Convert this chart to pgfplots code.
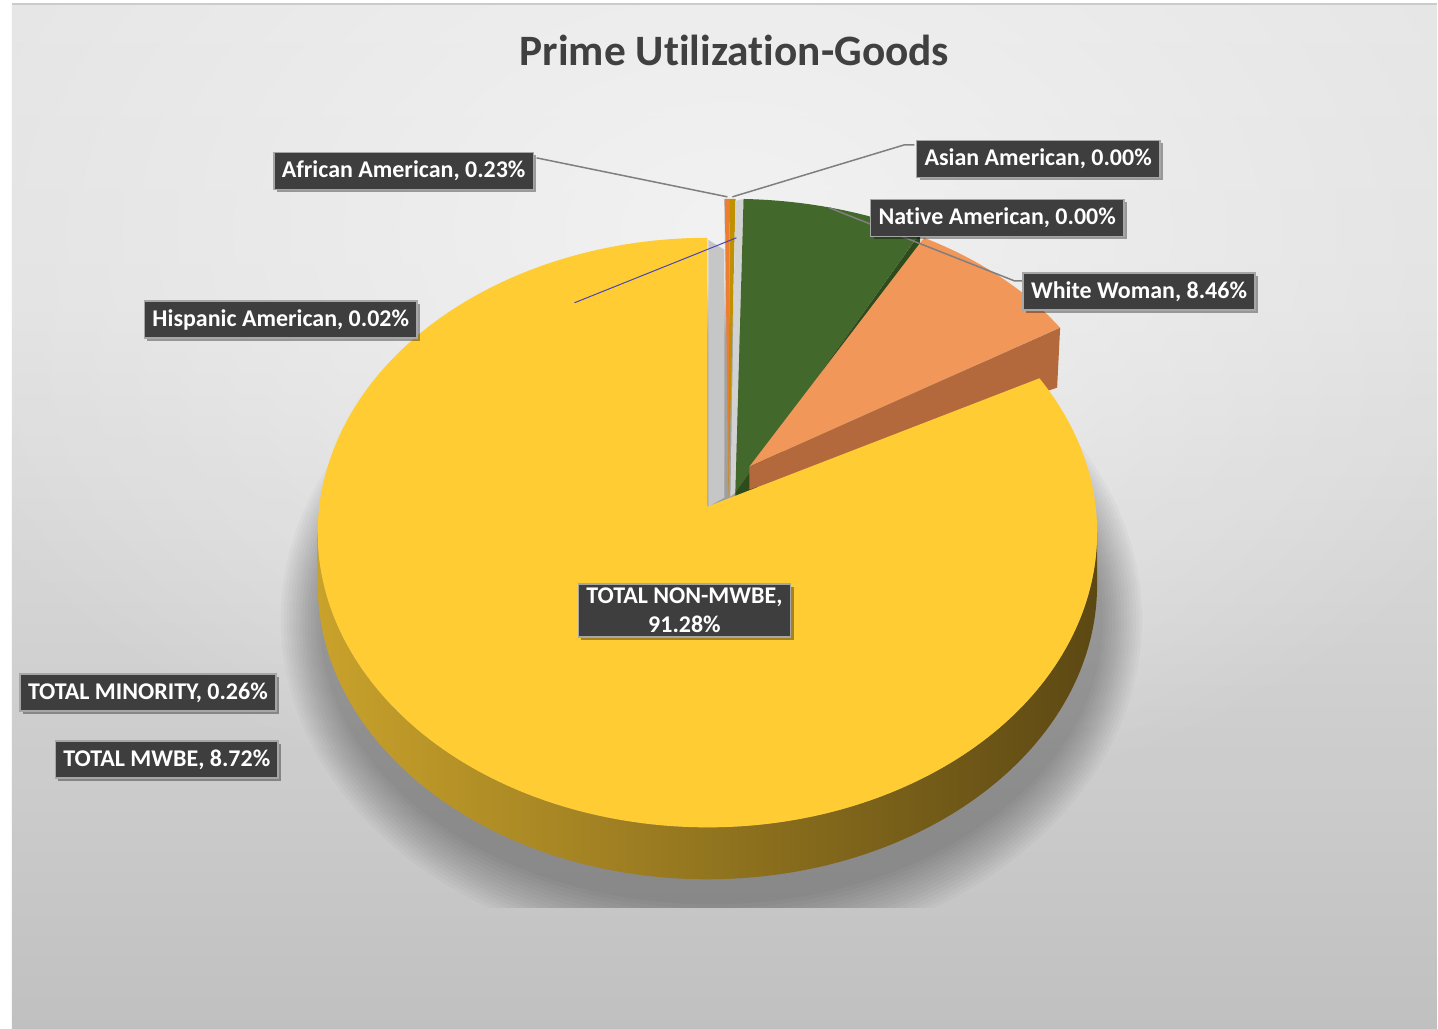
\documentclass[border=0pt]{standalone}
\usepackage{fontspec}
\setmainfont{Carlito}[Ligatures=NoCommon]
\usepackage{pgfplots}
\usepackage{pgfplotstable}
\pgfplotsset{compat=1.18}
\usetikzlibrary{shadows,fadings}

% slice colours
\definecolor{cHisp}{HTML}{A5A5A5}
\definecolor{cAfr}{HTML}{ED7D31}
\definecolor{cMin}{HTML}{BF9000}
\definecolor{cWW}{HTML}{43682B}
\definecolor{cWWside}{HTML}{2E4B1C}
\definecolor{cMWBE}{HTML}{F2975A}
\definecolor{cMWBEside}{HTML}{B4693C}
\definecolor{cNon}{HTML}{FFCD33}
\definecolor{lblfill}{HTML}{3E3E3E}
\definecolor{lbldraw}{HTML}{A6A6A6}
\definecolor{leader}{HTML}{7F7F7F}
\definecolor{titlec}{HTML}{404040}
\definecolor{bgA}{HTML}{F2F2F2}
\definecolor{bgB}{HTML}{EEEEEE}
\definecolor{bgC}{HTML}{DCDCDC}
\definecolor{bgD}{HTML}{CBCBCB}
\definecolor{sideA}{HTML}{C9A22B}
\definecolor{sideC}{HTML}{6E5719}
\definecolor{sideD}{HTML}{5C4813}

\tikzfading[name=glow, inner color=transparent!0, outer color=transparent!100]

\pgfplotstableread{
name value
Hispanic 0.02
African 0.23
Asian 0.00
Native 0.00
Minority 0.26
WhiteWoman 8.46
MWBE 8.72
NonMWBE 91.28
}\piedata

% cumulative angles, degrees clockwise from 12 o'clock
\pgfplotstablegetrowsof{\piedata}
\pgfmathtruncatemacro\lastrow{\pgfplotsretval-1}
\def\pietotal{0}
\pgfplotsforeachungrouped \i in {0,...,\lastrow}{%
  \pgfplotstablegetelem{\i}{value}\of\piedata
  \pgfmathsetmacro\pietotal{\pietotal+\pgfplotsretval}%
}
\def\piecum{0}
\pgfplotsforeachungrouped \i in {0,...,\lastrow}{%
  \pgfplotstablegetelem{\i}{value}\of\piedata
  \expandafter\let\csname pieA\i\endcsname\piecum
  \pgfmathsetmacro\piecum{\piecum+(\pgfplotsretval/\pietotal)*360}%
  \expandafter\let\csname pieB\i\endcsname\piecum
}
\newcommand\angA[1]{\csname pieA#1\endcsname}
\newcommand\angB[1]{\csname pieB#1\endcsname}

% top face of a slice: start, end, Ex, Ey, rx, ry, apex x, apex y, style
\newcommand\pietop[9]{\pgfplotsextra{%
  \pgfmathsetmacro\sx{#3+#5*sin(#1)}%
  \pgfmathsetmacro\sy{#4-#6*cos(#1)}%
  \fill[#9] (axis cs:#7,#8) -- (axis cs:\sx,\sy)
    arc[start angle={90-#1}, end angle={90-#2}, x radius={#5*0.5pt}, y radius={#6*0.5pt}] -- cycle;
}}

\tikzset{lbl/.style={fill=lblfill, draw=lbldraw, line width=0.8pt, text=white,
  font=\bfseries\fontsize{12}{14.5}\selectfont, inner xsep=4pt, inner ysep=0pt,
  minimum height=18.5pt,
  drop shadow={shadow xshift=1.5pt, shadow yshift=-1.5pt, opacity=0.35, fill=black}}}

\begin{document}
\begin{tikzpicture}
\begin{axis}[x=0.5pt, y=0.5pt, xmin=0, xmax=1438, ymin=0, ymax=1029,
  y dir=reverse, hide axis, clip=false, anchor=south west, at={(0,0)}]

% background
\pgfplotsextra{
  \fill[white] (axis cs:0,0) rectangle (axis cs:1438,1029);
  \shade[top color=bgA, bottom color=bgB] (axis cs:12,5) rectangle (axis cs:1438,301);
  \shade[top color=bgB, middle color=bgC, bottom color=bgD] (axis cs:12,300) rectangle (axis cs:1438,1029);
  \begin{scope}
    \clip (axis cs:12,5) rectangle (axis cs:1438,1029);
    \fill[white, path fading=glow] (axis cs:730,230) ellipse [x radius=440pt, y radius=300pt];
  \end{scope}
  \shade[left color=black, middle color=white, right color=black, opacity=0.05]
    (axis cs:12,5) rectangle (axis cs:1438,1029);
  \draw[line width=1.2pt, color=bgD] (axis cs:12,4) -- (axis cs:1438,4);
}

% soft shadow below the pie
\pgfplotsextra{
  \begin{scope}
    \clip (axis cs:12,5) rectangle (axis cs:1438,908);
    \foreach \k in {0,...,13}{
      \fill[black, opacity=0.024] (axis cs:712,620)
        ellipse [x radius={(392+3*\k)*0.5pt}, y radius={(285+4*\k)*0.5pt}];
    }
  \end{scope}
}

% side wall of the big slice
\pgfplotsextra{
  \shade[left color=sideA, middle color=sideC, right color=sideD] (axis cs:1098,533)
    arc[start angle=0, end angle=-180, x radius=195pt, y radius=147.5pt]
    -- (axis cs:318,585)
    arc[start angle=180, end angle=360, x radius=195pt, y radius=147.5pt] -- cycle;
}

% thin slices near 12 o'clock
\pietop{\angA{0}}{\angB{0}}{725}{459}{380}{260}{729}{497}{cHisp}
\pietop{\angA{1}}{\angB{1}}{725}{459}{380}{260}{729}{497}{cAfr}
\pietop{\angA{4}}{\angB{4}}{725}{459}{380}{260}{729}{497}{cMin}
\pgfplotsextra{
  \fill[gray!35] (axis cs:736,201) -- (axis cs:744,199) -- (axis cs:736,493) -- (axis cs:731,497) -- cycle;
}

% White Woman
\pietop{\angA{5}}{\angB{5}}{733}{459}{380}{260}{736}{493}{cWW}
\pgfplotsextra{
  \fill[cWWside] (axis cs:736,493) -- (axis cs:921,233) -- (axis cs:921,260) -- (axis cs:736,518) -- cycle;
}

% TOTAL MWBE
\pietop{\angA{6}}{\angB{6}}{737}{464}{380}{260}{750}{467}{cMWBE}
\pgfplotsextra{
  \fill[cMWBEside] (axis cs:750,467) -- (axis cs:1061,328) -- (axis cs:1058,388) -- (axis cs:750,490) -- cycle;
}

% TOTAL NON-MWBE
\pietop{\angA{7}}{\angB{7}}{708}{533}{390}{295}{708}{507}{cNon}
\pgfplotsextra{
  \fill[gray!45] (axis cs:709,240) -- (axis cs:725,250) -- (axis cs:725,498) -- (axis cs:709,507) -- cycle;
}

% leader lines
\pgfplotsextra{
  \draw[leader, line width=0.75pt] (axis cs:537,158) -- (axis cs:728,197);
  \draw[leader, line width=0.75pt] (axis cs:915,145) -- (axis cs:905,145) -- (axis cs:733,197);
  \draw[leader, line width=0.75pt] (axis cs:1023,281) -- (axis cs:1015,281) -- (axis cs:830,208);
  \draw[color=blue!45!gray, line width=0.5pt] (axis cs:575,303) -- (axis cs:737,238);
}

% data labels
\node[lbl] at (axis cs:404,171) {African American, 0.23\%};
\node[lbl] at (axis cs:1039,159) {Asian American, 0.00\%};
\node[lbl] at (axis cs:998,218) {Native American, 0.00\%};
\node[lbl] at (axis cs:1140,292) {White Woman, 8.46\%};
\node[lbl] at (axis cs:281,320) {Hispanic American, 0.02\%};
\node[lbl] at (axis cs:148,693) {TOTAL MINORITY, 0.26\%};
\node[lbl] at (axis cs:167,760) {TOTAL MWBE, 8.72\%};
\node[lbl, align=center, inner ysep=2pt] at (axis cs:685,611) {TOTAL NON-MWBE,\\91.28\%};

% title
\node[text=titlec, font=\bfseries\fontsize{21.7}{26}\selectfont] at (axis cs:735,50) {Prime Utilization-Goods};

\end{axis}
\end{tikzpicture}
\end{document}
